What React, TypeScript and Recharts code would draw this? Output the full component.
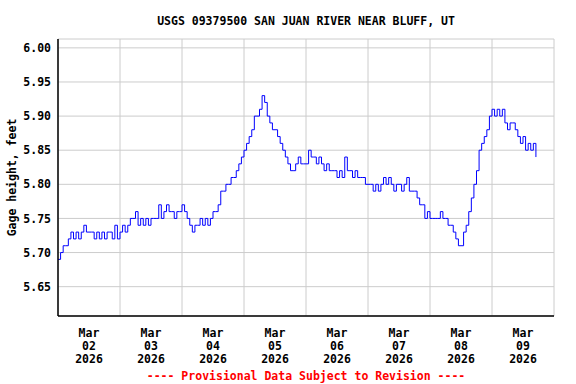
import {
  CartesianGrid,
  Line,
  LineChart,
  XAxis,
  YAxis,
} from "recharts";

// Gage height, feet — hourly readings, one array per day (starting 00:00)
const mar02 = [5.69, 5.70, 5.71, 5.71, 5.72, 5.73, 5.72, 5.73, 5.72, 5.73, 5.74, 5.73, 5.73, 5.73, 5.72, 5.73, 5.72, 5.73, 5.72, 5.73, 5.73, 5.72, 5.74, 5.72];
const mar03 = [5.73, 5.74, 5.73, 5.74, 5.75, 5.75, 5.76, 5.74, 5.75, 5.74, 5.75, 5.74, 5.75, 5.75, 5.75, 5.77, 5.75, 5.76, 5.77, 5.76, 5.76, 5.75, 5.76, 5.76];
const mar04 = [5.77, 5.76, 5.75, 5.74, 5.73, 5.74, 5.74, 5.75, 5.74, 5.75, 5.74, 5.75, 5.76, 5.76, 5.77, 5.79, 5.79, 5.80, 5.80, 5.81, 5.81, 5.82, 5.83, 5.84];
const mar05 = [5.85, 5.86, 5.87, 5.88, 5.90, 5.90, 5.91, 5.93, 5.92, 5.90, 5.89, 5.88, 5.88, 5.87, 5.86, 5.85, 5.84, 5.83, 5.82, 5.82, 5.83, 5.84, 5.83, 5.83];
const mar06 = [5.83, 5.85, 5.84, 5.84, 5.83, 5.84, 5.83, 5.82, 5.83, 5.82, 5.82, 5.82, 5.81, 5.82, 5.81, 5.84, 5.82, 5.82, 5.81, 5.82, 5.81, 5.81, 5.81, 5.80];
const mar07 = [5.80, 5.80, 5.79, 5.80, 5.79, 5.80, 5.81, 5.80, 5.81, 5.80, 5.79, 5.80, 5.80, 5.79, 5.80, 5.81, 5.79, 5.79, 5.79, 5.78, 5.77, 5.77, 5.75, 5.76];
const mar08 = [5.75, 5.75, 5.75, 5.75, 5.76, 5.75, 5.75, 5.74, 5.74, 5.73, 5.72, 5.71, 5.71, 5.73, 5.74, 5.76, 5.78, 5.80, 5.82, 5.85, 5.86, 5.87, 5.88, 5.90];
const mar09 = [5.91, 5.90, 5.91, 5.90, 5.91, 5.89, 5.88, 5.89, 5.89, 5.88, 5.87, 5.86, 5.87, 5.85, 5.86, 5.85, 5.86, 5.84];

const days = [mar02, mar03, mar04, mar05, mar06, mar07, mar08, mar09];
const dayLabels = ["02", "03", "04", "05", "06", "07", "08", "09"];
const monthLabel = "Mar";
const yearLabel = "2026";
const yTicks = [5.65, 5.7, 5.75, 5.8, 5.85, 5.9, 5.95, 6.0];

const title = "USGS 09379500 SAN JUAN RIVER NEAR BLUFF, UT";
const footer = "---- Provisional Data Subject to Revision ----";

// hours since Mar 02 00:00
const data = days.flatMap((vals, d) =>
  vals.map((v, h) => ({ t: d * 24 + h, height: v }))
);
const labelTicks = dayLabels.map((_, d) => d * 24 + 12);
const gridTicks = dayLabels.map((_, d) => d * 24);

const FONT = "'DejaVu Sans Mono', monospace";

function DateTick({ x, y, payload }: any) {
  const d = Math.floor(payload.value / 24);
  return (
    <text
      x={x}
      y={y}
      textAnchor="middle"
      fontFamily={FONT}
      fontWeight="bold"
      fontSize={11.5}
      fill="#000"
    >
      <tspan x={x} y={y + 19}>{monthLabel}</tspan>
      <tspan x={x} y={y + 32}>{dayLabels[d]}</tspan>
      <tspan x={x} y={y + 45}>{yearLabel}</tspan>
    </text>
  );
}

export default function App() {
  return (
    <div style={{ position: "absolute", left: 0, top: 0, width: 576, height: 384, background: "#fff" }}>
      <LineChart
        width={576}
        height={384}
        data={data}
        margin={{ top: 39, right: 22, bottom: 0, left: 0 }}
      >
        <CartesianGrid
          xAxisId="grid"
          stroke="#cccccc"
          strokeDasharray=""
        />
        <XAxis
          dataKey="t"
          type="number"
          domain={[0, 192]}
          ticks={labelTicks}
          tick={<DateTick />}
          tickLine={false}
          tickSize={0}
          height={68}
          axisLine={{ stroke: "#000", strokeWidth: 1.5 }}
          interval={0}
        />
        <XAxis
          xAxisId="grid"
          dataKey="t"
          type="number"
          domain={[0, 192]}
          ticks={gridTicks}
          hide
        />
        <XAxis
          xAxisId="top"
          orientation="top"
          type="number"
          domain={[0, 192]}
          tick={false}
          tickLine={false}
          height={0}
          axisLine={{ stroke: "#000", strokeWidth: 1.5 }}
        />
        <YAxis
          type="number"
          domain={[5.607, 6.013]}
          ticks={yTicks}
          tickFormatter={(v: number) => v.toFixed(2)}
          tick={{ fontFamily: FONT, fontWeight: "bold", fontSize: 11.5, fill: "#000" }}
          tickLine={false}
          tickSize={0}
          tickMargin={7}
          width={58}
          axisLine={{ stroke: "#000", strokeWidth: 1.5 }}
          interval={0}
        />
        <YAxis
          yAxisId="right"
          orientation="right"
          type="number"
          domain={[5.607, 6.013]}
          tick={false}
          tickLine={false}
          width={0}
          axisLine={{ stroke: "#000", strokeWidth: 1.5 }}
        />
        <Line
          type="stepAfter"
          dataKey="height"
          stroke="#0000ff"
          strokeWidth={1}
          dot={false}
          isAnimationActive={false}
        />
      </LineChart>
      <svg
        width={576}
        height={384}
        style={{ position: "absolute", left: 0, top: 0, pointerEvents: "none" }}
        fontFamily={FONT}
        fontWeight="bold"
        fontSize={11.5}
      >
        <text x={306} y={25} textAnchor="middle" fill="#000">{title}</text>
        <text
          x={16}
          y={177.5}
          textAnchor="middle"
          fill="#000"
          transform="rotate(-90 16 177.5)"
        >
          Gage height, feet
        </text>
        <text x={306} y={380} textAnchor="middle" fill="#ff0000">{footer}</text>
      </svg>
    </div>
  );
}
